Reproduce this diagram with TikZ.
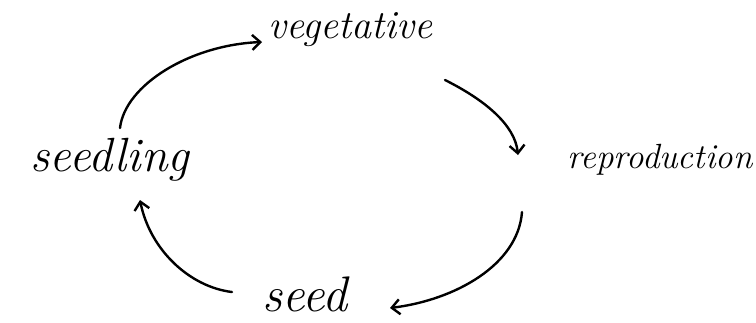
\documentclass[tikz,border=0pt]{standalone}
\usepackage{fontspec}
\usetikzlibrary{arrows.meta}
\begin{document}
\begin{tikzpicture}[x=1pt,y=-1pt]
\definecolor{ink}{HTML}{000000}
\tikzset{stage/.style={font=\fontsize{#1}{#1}\selectfont\itshape,inner sep=1pt},
  stage/.default=38,
  link/.style={ink,line width=2.4pt,line cap=round,-{Straight Barb[length=8pt,width=15pt]}}}
\useasboundingbox (0,0) rectangle (756,322);
\node[stage=40] (veg) at (350,30) {vegetative};
\node[stage=35] (rep) at (660,160) {reproduction};
\node[stage=50] (seed) at (305,294) {seed};
\node[stage=48] (sdl) at (110,160) {seedling};
\draw[link] ([shift={(10,-32)}]sdl.center) .. controls (125,85) and (190,45) .. ([shift={(-88,12)}]veg.center);
\draw[link] ([shift={(95,50)}]veg.center) .. controls (485,100) and (515,125) .. ([shift={(-142,-5)}]rep.center);
\draw[link] ([shift={(-138,52)}]rep.center) .. controls (518,265) and (455,300) .. ([shift={(85,14)}]seed.center);
\draw[link] ([shift={(-73,-2)}]seed.center) .. controls (190,287) and (150,250) .. ([shift={(30,40)}]sdl.center);
\end{tikzpicture}
\end{document}
